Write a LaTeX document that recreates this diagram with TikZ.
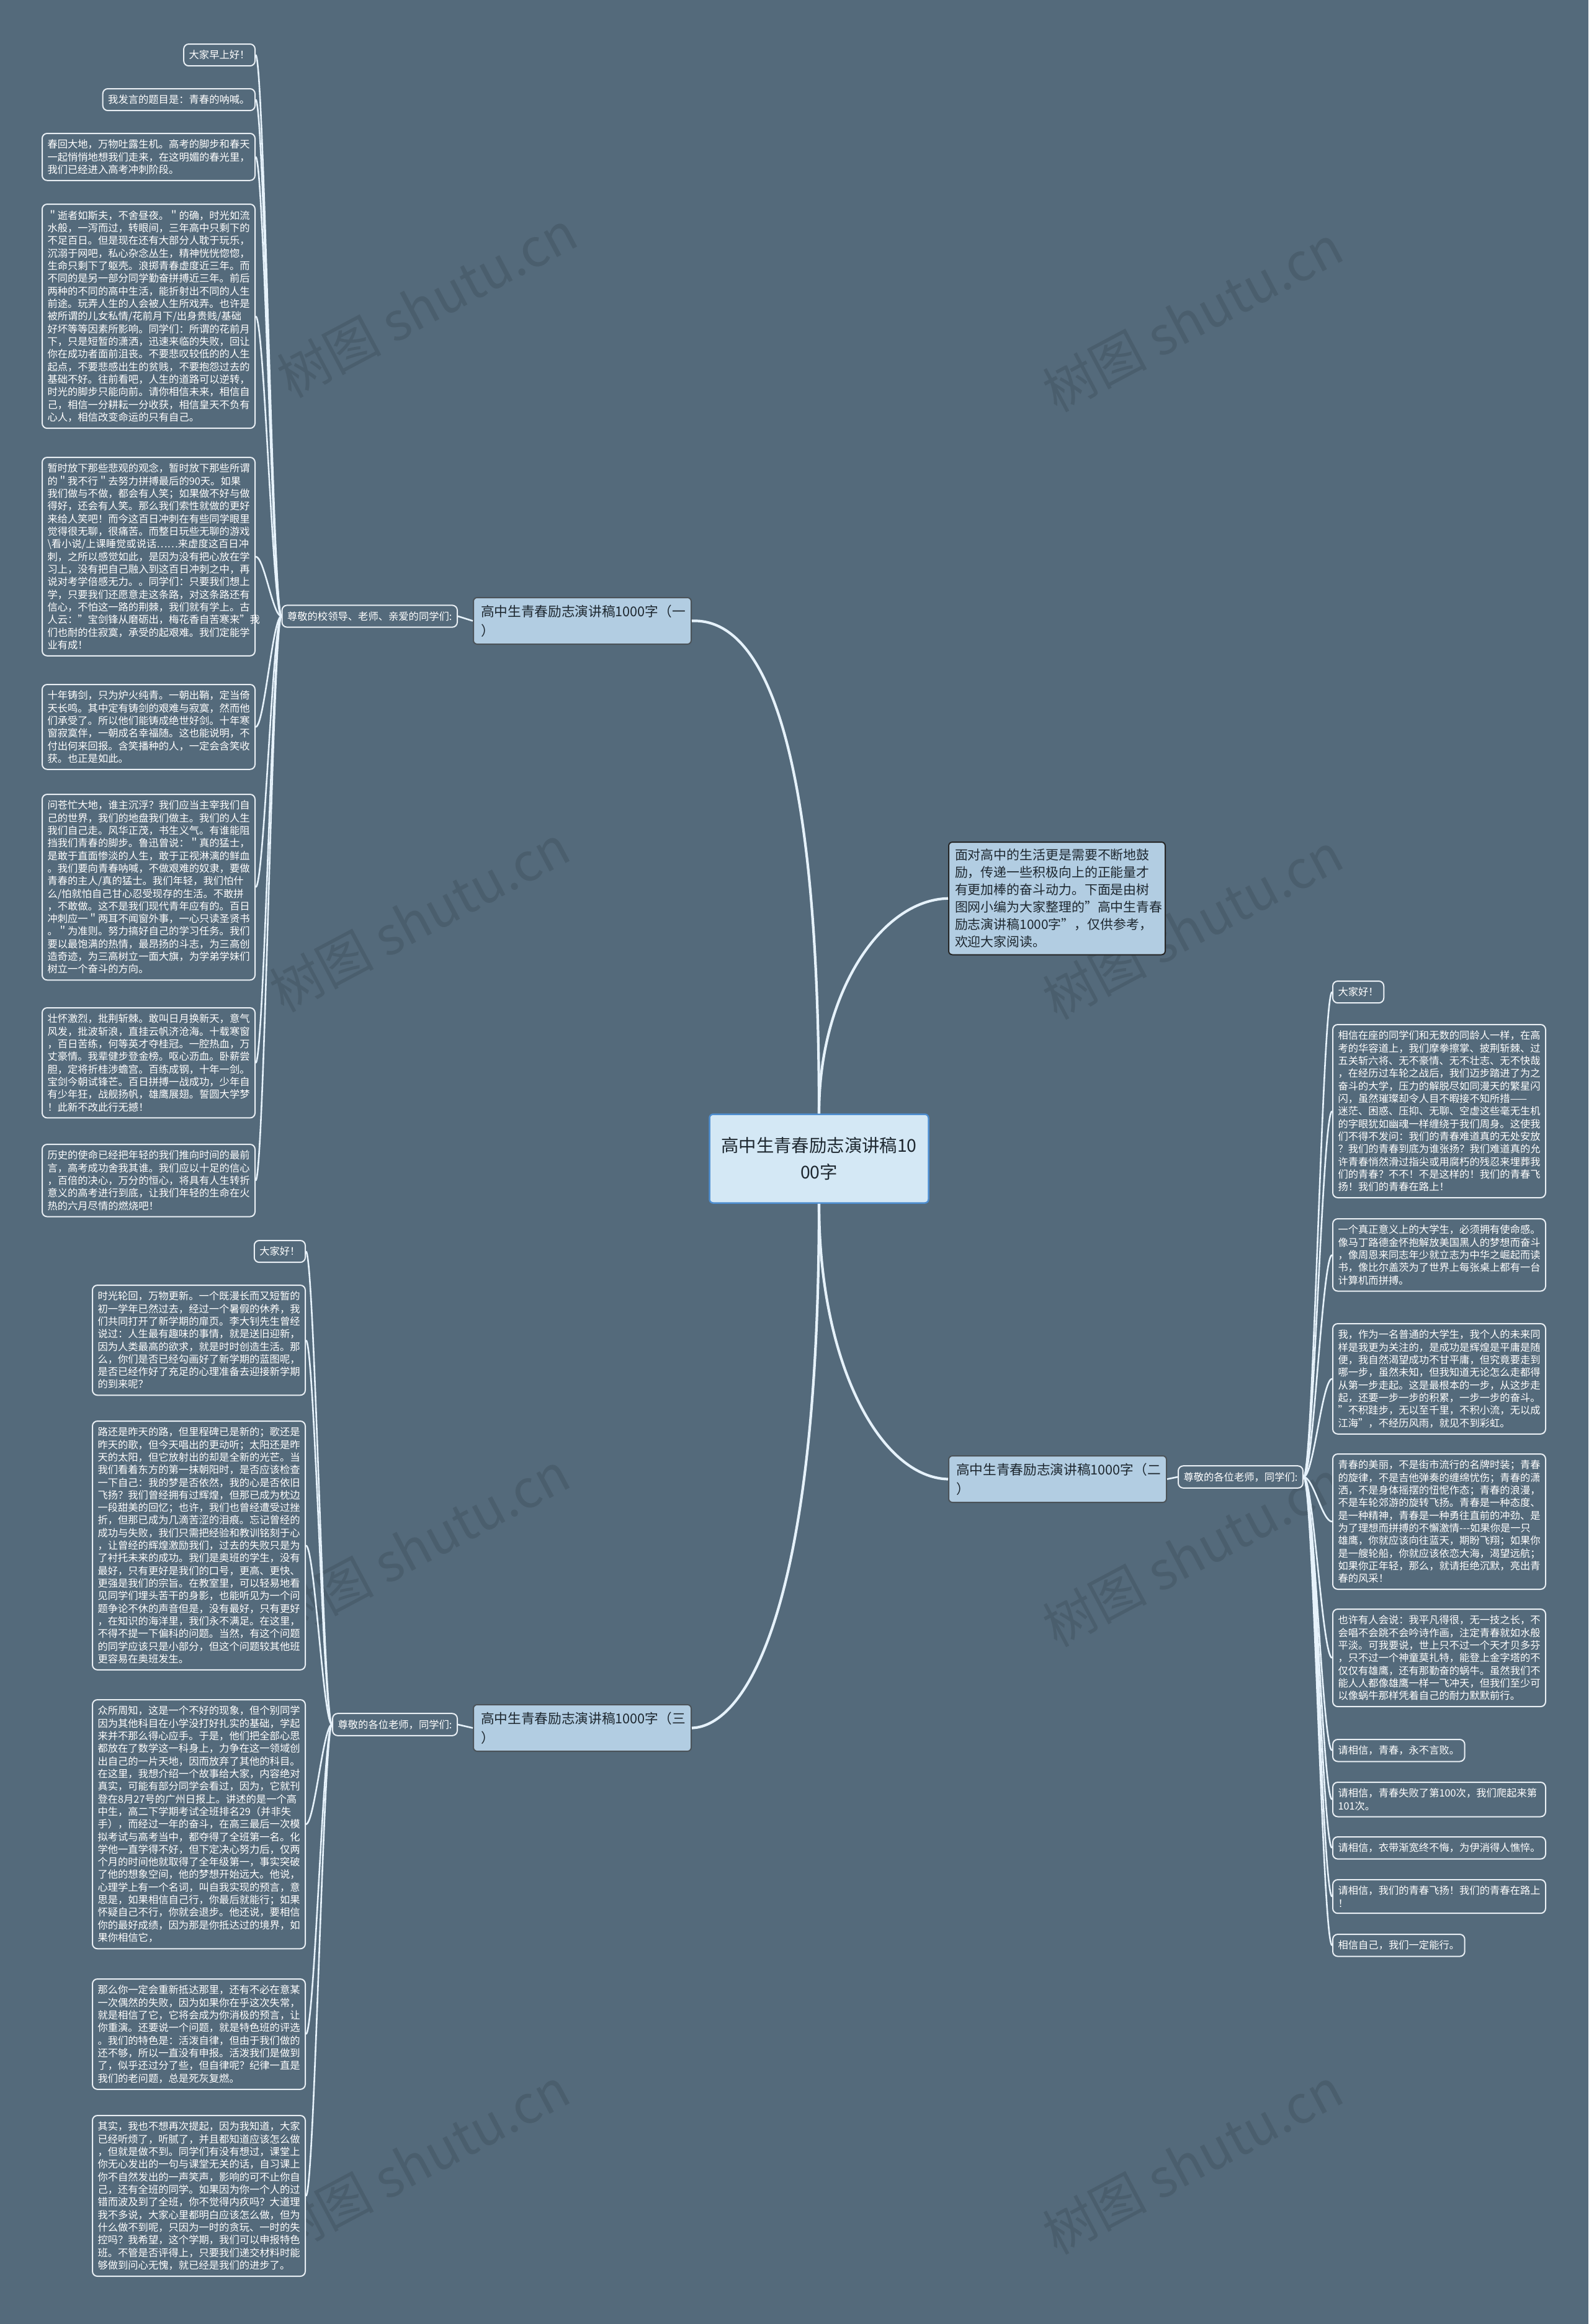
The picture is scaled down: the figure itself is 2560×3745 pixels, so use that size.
\documentclass[tikz,border=0pt]{standalone}
\usepackage{fontspec}
\setmainfont{Noto Sans CJK SC}
\usepackage{xcolor}
\usetikzlibrary{arrows.meta}
\definecolor{bgslate}{HTML}{546A7B}
\definecolor{wire}{HTML}{E6F2FB}
\definecolor{leafrim}{HTML}{E9EFF4}
\definecolor{branchfill}{HTML}{B2CDE2}
\definecolor{rootfill}{HTML}{D4E8F5}
\definecolor{rootrim}{HTML}{4E8ED0}
\definecolor{inktext}{HTML}{1E2830}
\newcommand{\leaffont}{\fontsize{4.64pt}{5.78pt}\selectfont}
\newcommand{\branchfont}{\fontsize{6.17pt}{8.8pt}\selectfont}
\newcommand{\introfont}{\fontsize{5.95pt}{7.97pt}\selectfont}
\newcommand{\rootfont}{\fontsize{8.08pt}{12.2pt}\selectfont}
\newcommand{\markfont}{\fontsize{24pt}{28pt}\selectfont}
\tikzstyle{leaf} = [draw=leafrim, line width=0.2mm, rounded corners=0.8mm,
        fill=bgslate, text=white, inner xsep=0.85mm, inner ysep=1.0mm,
        font=\leaffont, align=left]
\tikzstyle{leafwide} = [leaf, text width=32.6mm]
\tikzstyle{wire} = [draw=wire, line width=0.42mm]

\begin{document}
\begin{tikzpicture}[
        x=0.1mm, y=-0.1mm,
        root/.style={rectangle, rounded corners=0.6mm, draw=rootrim, line width=0.25mm,
            fill=rootfill, text=inktext, font=\rootfont, align=center,
            minimum width=35.3mm, minimum height=14.3mm},
        branch/.style={rectangle, rounded corners=0.6mm, draw=inktext!80, line width=0.2mm,
            fill=branchfill, text=inktext, font=\branchfont, align=left,
            text width=32.7mm, inner xsep=1.2mm, minimum height=7mm},
        intro/.style={rectangle, rounded corners=0.6mm, draw=black!85, line width=0.2mm,
            fill=branchfill, text=inktext, font=\introfont, align=left,
            text width=32.9mm, inner xsep=1mm, inner ysep=1.1mm},
        watermark/.style={font=\markfont, text=black, opacity=0.11, rotate=28},
        twig/.style={draw=wire, line width=0.26mm}
    ]
    \useasboundingbox (0,0) rectangle (2560,3745);
    \fill [bgslate] (0,0) rectangle (2560,3745);

    \foreach \wx/\wy [count=\k] in {688/490, 1922/513, 676/1480, 1922/1492,
            676/2490, 1922/2503, 676/3482, 1922/3482}
        \node (wm\k) [watermark] at (\wx,\wy) {树图 shutu.cn};

    \node (root)  [root] at (1320,1867) {高中生青春励志演讲稿10\\00字};
    \node (intro) [intro, anchor=north west] at (1528,1356)
        {面对高中的生活更是需要不断地鼓\\励，传递一些积极向上的正能量才\\有更加棒的奋斗动力。下面是由树\\图网小编为大家整理的"高中生青春\\励志演讲稿1000字"，仅供参考，\\欢迎大家阅读。};
    \node (one)   [branch, anchor=north west] at (762,962)  {高中生青春励志演讲稿1000字（一\\）};
    \node (two)   [branch, anchor=north west] at (1528,2345) {高中生青春励志演讲稿1000字（二\\）};
    \node (three) [branch, anchor=north west] at (762,2746) {高中生青春励志演讲稿1000字（三\\）};

    \node (hail1) [leaf, anchor=east] at (738,993)  {尊敬的校领导、老师、亲爱的同学们:};
    \node (hail2) [leaf, anchor=west] at (1898,2380) {尊敬的各位老师，同学们:};
    \node (hail3) [leaf, anchor=east] at (738,2779) {尊敬的各位老师，同学们:};

    % first speech
    \node (a1) [leaf, anchor=north east] at (412,70) {大家早上好！};
    \node (a2) [leaf, anchor=north east] at (412,142) {我发言的题目是：青春的呐喊。};
    \node (a3) [leafwide, anchor=north east] at (412,214)
        {春回大地，万物吐露生机。高考的脚步和春天\\一起悄悄地想我们走来，在这明媚的春光里，\\我们已经进入高考冲刺阶段。};
    \node (a4) [leafwide, anchor=north east] at (412,328)
        {＂逝者如斯夫，不舍昼夜。＂的确，时光如流\\水般，一泻而过，转眼间，三年高中只剩下的\\不足百日。但是现在还有大部分人耽于玩乐，\\沉溺于网吧，私心杂念丛生，精神恍恍惚惚，\\生命只剩下了躯壳。浪掷青春虚度近三年。而\\不同的是另一部分同学勤奋拼搏近三年。前后\\两种的不同的高中生活，能折射出不同的人生\\前途。玩弄人生的人会被人生所戏弄。也许是\\被所谓的儿女私情/花前月下/出身贵贱/基础\\好坏等等因素所影响。同学们：所谓的花前月\\下，只是短暂的潇洒，迅速来临的失败，回让\\你在成功者面前沮丧。不要悲叹较低的的人生\\起点，不要悲感出生的贫贱，不要抱怨过去的\\基础不好。往前看吧，人生的道路可以逆转，\\时光的脚步只能向前。请你相信未来，相信自\\己，相信一分耕耘一分收获，相信皇天不负有\\心人，相信改变命运的只有自己。};
    \node (a5) [leafwide, anchor=north east] at (412,736)
        {暂时放下那些悲观的观念，暂时放下那些所谓\\的＂我不行＂去努力拼搏最后的90天。如果\\我们做与不做，都会有人笑；如果做不好与做\\得好，还会有人笑。那么我们索性就做的更好\\来给人笑吧！而今这百日冲刺在有些同学眼里\\觉得很无聊，很痛苦。而整日玩些无聊的游戏\\\textbackslash 看小说/上课睡觉或说话……来虚度这百日冲\\刺，之所以感觉如此，是因为没有把心放在学\\习上，没有把自己融入到这百日冲刺之中，再\\说对考学倍感无力。。同学们：只要我们想上\\学，只要我们还愿意走这条路，对这条路还有\\信心，不怕这一路的荆棘，我们就有学上。古\\人云："宝剑锋从磨砺出，梅花香自苦寒来"我\\们也耐的住寂寞，承受的起艰难。我们定能学\\业有成！};
    \node (a6) [leafwide, anchor=north east] at (412,1102)
        {十年铸剑，只为炉火纯青。一朝出鞘，定当倚\\天长鸣。其中定有铸剑的艰难与寂寞，然而他\\们承受了。所以他们能铸成绝世好剑。十年寒\\窗寂寞伴，一朝成名幸福随。这也能说明，不\\付出何来回报。含笑播种的人，一定会含笑收\\获。也正是如此。};
    \node (a7) [leafwide, anchor=north east] at (412,1279)
        {问苍忙大地，谁主沉浮？我们应当主宰我们自\\己的世界，我们的地盘我们做主。我们的人生\\我们自己走。风华正茂，书生义气。有谁能阻\\挡我们青春的脚步。鲁迅曾说：＂真的猛士，\\是敢于直面惨淡的人生，敢于正视淋漓的鲜血\\。我们要向青春呐喊，不做艰难的奴隶，要做\\青春的主人/真的猛士。我们年轻，我们怕什\\么/怕就怕自己甘心忍受现存的生活。不敢拼\\，不敢做。这不是我们现代青年应有的。百日\\冲刺应一＂两耳不闻窗外事，一心只读圣贤书\\。＂为准则。努力搞好自己的学习任务。我们\\要以最饱满的热情，最昂扬的斗志，为三高创\\造奇迹，为三高树立一面大旗，为学弟学妹们\\树立一个奋斗的方向。};
    \node (a8) [leafwide, anchor=north east] at (412,1623)
        {壮怀激烈，批荆斩棘。敢叫日月换新天，意气\\风发，批波斩浪，直挂云帆济沧海。十载寒窗\\，百日苦练，何等英才夺桂冠。一腔热血，万\\丈豪情。我辈健步登金榜。呕心沥血。卧薪尝\\胆，定将折桂涉蟾宫。百练成钢，十年一剑。\\宝剑今朝试锋芒。百日拼搏一战成功，少年自\\有少年狂，战舰扬帆，雄鹰展翅。誓圆大学梦\\！此新不改此行无撼！};
    \node (a9) [leafwide, anchor=north east] at (412,1843)
        {历史的使命已经把年轻的我们推向时间的最前\\言，高考成功舍我其谁。我们应以十足的信心\\，百倍的决心，万分的恒心，将具有人生转折\\意义的高考进行到底，让我们年轻的生命在火\\热的六月尽情的燃烧吧！};

    % second speech
    \node (r1) [leaf, anchor=north west] at (2147,1580) {大家好！};
    \node (r2) [leafwide, anchor=north west] at (2147,1650)
        {相信在座的同学们和无数的同龄人一样，在高\\考的华容道上，我们摩拳擦掌、披荆斩棘、过\\五关斩六将、无不豪情、无不壮志、无不快哉\\，在经历过车轮之战后，我们迈步踏进了为之\\奋斗的大学，压力的解脱尽如同漫天的繁星闪\\闪，虽然璀璨却令人目不暇接不知所措——\\迷茫、困惑、压抑、无聊、空虚这些毫无生机\\的字眼犹如幽魂一样缠绕于我们周身。这使我\\们不得不发问：我们的青春难道真的无处安放\\？我们的青春到底为谁张扬？我们难道真的允\\许青春悄然滑过指尖或用腐朽的残忍来埋葬我\\们的青春？不不！不是这样的！我们的青春飞\\扬！我们的青春在路上！};
    \node (r3) [leafwide, anchor=north west] at (2147,1963)
        {一个真正意义上的大学生，必须拥有使命感。\\像马丁路德金怀抱解放美国黑人的梦想而奋斗\\，像周恩来同志年少就立志为中华之崛起而读\\书，像比尔盖茨为了世界上每张桌上都有一台\\计算机而拼搏。};
    \node (r4) [leafwide, anchor=north west] at (2147,2132)
        {我，作为一名普通的大学生，我个人的未来同\\样是我更为关注的，是成功是辉煌是平庸是随\\便，我自然渴望成功不甘平庸，但究竟要走到\\哪一步，虽然未知，但我知道无论怎么走都得\\从第一步走起。这是最根本的一步，从这步走\\起，还要一步一步的积累，一步一步的奋斗。\\"不积跬步，无以至千里，不积小流，无以成\\江海"，不经历风雨，就见不到彩虹。};
    \node (r5) [leafwide, anchor=north west] at (2147,2342)
        {青春的美丽，不是街市流行的名牌时装；青春\\的旋律，不是吉他弹奏的缠绵忧伤；青春的潇\\洒，不是身体摇摆的忸怩作态；青春的浪漫，\\不是车轮郊游的旋转飞扬。青春是一种态度、\\是一种精神，青春是一种勇往直前的冲劲、是\\为了理想而拼搏的不懈激情-{}-{}-如果你是一只\\雄鹰，你就应该向往蓝天，期盼飞翔；如果你\\是一艘轮船，你就应该依恋大海，渴望远航；\\如果你正年轻，那么，就请拒绝沉默，亮出青\\春的风采！};
    \node (r6) [leafwide, anchor=north west] at (2147,2592)
        {也许有人会说：我平凡得很，无一技之长，不\\会唱不会跳不会吟诗作画，注定青春就如水般\\平淡。可我要说，世上只不过一个天才贝多芬\\，只不过一个神童莫扎特，能登上金字塔的不\\仅仅有雄鹰，还有那勤奋的蜗牛。虽然我们不\\能人人都像雄鹰一样一飞冲天，但我们至少可\\以像蜗牛那样凭着自己的耐力默默前行。};
    \node (r7) [leaf, anchor=north west] at (2147,2802) {请相信，青春，永不言败。};
    \node (r8) [leafwide, anchor=north west] at (2147,2871)
        {请相信，青春失败了第100次，我们爬起来第\\101次。};
    \node (r9) [leafwide, anchor=north west] at (2147,2959)
        {请相信，衣带渐宽终不悔，为伊消得人憔悴。};
    \node (r10) [leafwide, anchor=north west] at (2147,3028)
        {请相信，我们的青春飞扬！我们的青春在路上\\！};
    \node (r11) [leaf, anchor=north west] at (2147,3116) {相信自己，我们一定能行。};

    % third speech
    \node (c1) [leaf, anchor=north east] at (493,1998) {大家好！};
    \node (c2) [leafwide, anchor=north east] at (493,2070)
        {时光轮回，万物更新。一个既漫长而又短暂的\\初一学年已然过去，经过一个暑假的休养，我\\们共同打开了新学期的扉页。李大钊先生曾经\\说过：人生最有趣味的事情，就是送旧迎新，\\因为人类最高的欲求，就是时时创造生活。那\\么，你们是否已经勾画好了新学期的蓝图呢，\\是否已经作好了充足的心理准备去迎接新学期\\的到来呢？};
    \node (c3) [leafwide, anchor=north east] at (493,2289)
        {路还是昨天的路，但里程碑已是新的；歌还是\\昨天的歌，但今天唱出的更动听；太阳还是昨\\天的太阳，但它放射出的却是全新的光芒。当\\我们看着东方的第一抹朝阳时，是否应该检查\\一下自己：我的梦是否依然，我的心是否依旧\\飞扬？我们曾经拥有过辉煌，但那已成为枕边\\一段甜美的回忆；也许，我们也曾经遭受过挫\\折，但那已成为几滴苦涩的泪痕。忘记曾经的\\成功与失败，我们只需把经验和教训铭刻于心\\，让曾经的辉煌激励我们，过去的失败只是为\\了衬托未来的成功。我们是奥班的学生，没有\\最好，只有更好是我们的口号，更高、更快、\\更强是我们的宗旨。在教室里，可以轻易地看\\见同学们埋头苦干的身影，也能听见为一个问\\题争论不休的声音但是，没有最好，只有更好\\，在知识的海洋里，我们永不满足。在这里，\\不得不提一下偏科的问题。当然，有这个问题\\的同学应该只是小部分，但这个问题较其他班\\更容易在奥班发生。};
    \node (c4) [leafwide, anchor=north east] at (493,2738)
        {众所周知，这是一个不好的现象，但个别同学\\因为其他科目在小学没打好扎实的基础，学起\\来并不那么得心应手。于是，他们把全部心思\\都放在了数学这一科身上，力争在这一领域创\\出自己的一片天地，因而放弃了其他的科目。\\在这里，我想介绍一个故事给大家，内容绝对\\真实，可能有部分同学会看过，因为，它就刊\\登在8月27号的广州日报上。讲述的是一个高\\中生，高二下学期考试全班排名29（并非失\\手），而经过一年的奋斗，在高三最后一次模\\拟考试与高考当中，都夺得了全班第一名。化\\学他一直学得不好，但下定决心努力后，仅两\\个月的时间他就取得了全年级第一，事实突破\\了他的想象空间，他的梦想开始远大。他说，\\心理学上有一个名词，叫自我实现的预言，意\\思是，如果相信自己行，你最后就能行；如果\\怀疑自己不行，你就会退步。他还说，要相信\\你的最好成绩，因为那是你抵达过的境界，如\\果你相信它，};
    \node (c5) [leafwide, anchor=north east] at (493,3188)
        {那么你一定会重新抵达那里，还有不必在意某\\一次偶然的失败，因为如果你在乎这次失常，\\就是相信了它，它将会成为你消极的预言，让\\你重演。还要说一个问题，就是特色班的评选\\。我们的特色是：活泼自律，但由于我们做的\\还不够，所以一直没有申报。活泼我们是做到\\了，似乎还过分了些，但自律呢？纪律一直是\\我们的老问题，总是死灰复燃。};
    \node (c6) [leafwide, anchor=north east] at (493,3408)
        {其实，我也不想再次提起，因为我知道，大家\\已经听烦了，听腻了，并且都知道应该怎么做\\，但就是做不到。同学们有没有想过，课堂上\\你无心发出的一句与课堂无关的话，自习课上\\你不自然发出的一声笑声，影响的可不止你自\\己，还有全班的同学。如果因为你一个人的过\\错而波及到了全班，你不觉得内疚吗？大道理\\我不多说，大家心里都明白应该怎么做，但为\\什么做不到呢，只因为一时的贪玩、一时的失\\控吗？我希望，这个学期，我们可以申报特色\\班。不管是否评得上，只要我们递交材料时能\\够做到问心无愧，就已经是我们的进步了。};

    \draw [wire] (root.north) .. controls (1320,1100) and (1200,997) .. (one.east);
    \draw [wire] (root.north) .. controls (1320,1600) and (1420,1450) .. (intro.west);
    \draw [wire] (root.south) .. controls (1320,2200) and (1420,2381) .. (two.west);
    \draw [wire] (root.south) .. controls (1320,2600) and (1200,2782) .. (three.east);

    \draw [twig] (one.west) -- (hail1.east);
    \draw [twig] (two.east) -- (hail2.west);
    \draw [twig] (three.west) -- (hail3.east);

    \foreach \n in {a1,a2,a3,a4,a5,a6,a7,a8,a9}
        \draw [twig] (hail1.west) .. controls +(-14,0) and +(14,0) .. (\n.east);
    \foreach \n in {r1,r2,r3,r4,r5,r6,r7,r8,r9,r10,r11}
        \draw [twig] (hail2.east) .. controls +(16,0) and +(-16,0) .. (\n.west);
    \foreach \n in {c1,c2,c3,c4,c5,c6}
        \draw [twig] (hail3.west) .. controls +(-14,0) and +(14,0) .. (\n.east);
\end{tikzpicture}
\end{document}
